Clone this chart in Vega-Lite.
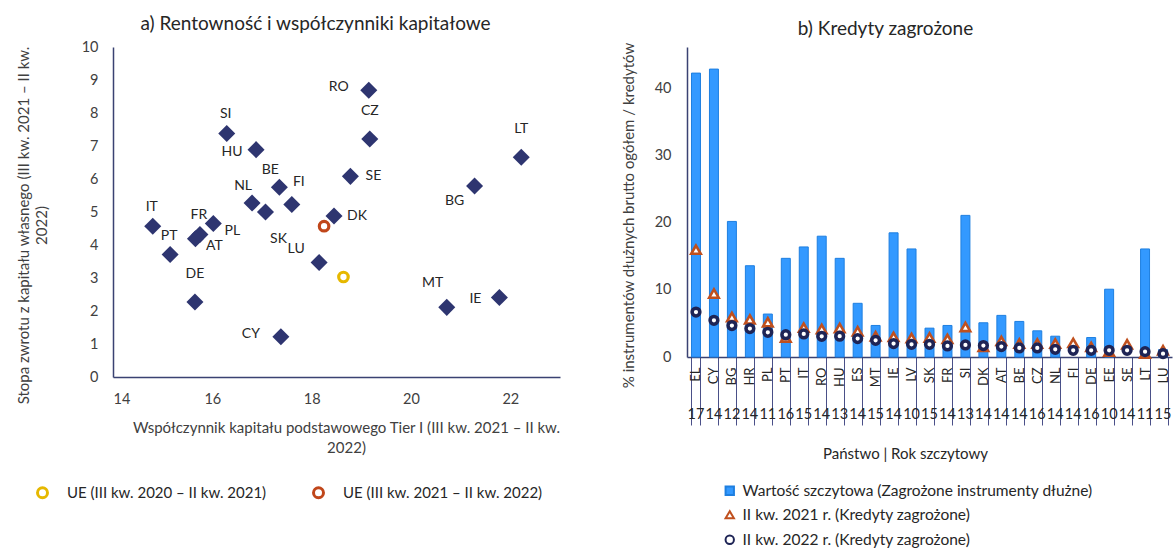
{
  "$schema": "https://vega.github.io/schema/vega-lite/v6.json",
  "padding": {"left": 15, "top": 15, "right": 0, "bottom": 0},
  "bounds": "flush",
  "spacing": 127,
  "config": {
    "font": "Lato",
    "view": {"stroke": null},
    "axis": {"grid": false, "ticks": false, "labelFont": "Lato", "titleFont": "Lato", "labelColor": "#404040", "titleColor": "#404040", "titleFontWeight": "normal", "domainColor": "#3A4272", "domainWidth": 1.5},
    "title": {"fontWeight": "normal", "color": "#262626", "font": "Lato"},
    "legend": {"labelFont": "Lato", "labelColor": "#262626", "labelLimit": 500}
  },
  "hconcat": [
    {
      "width": 447,
      "height": 330,
      "title": {"text": "a) Rentowność i współczynniki kapitałowe", "fontSize": 19, "offset": 5, "dx": -21},
      "data": {"values": [
        {"panstwo": "RO", "wspolczynnik": 19.15, "roe": 8.69},
        {"panstwo": "CZ", "wspolczynnik": 19.17, "roe": 7.21},
        {"panstwo": "LT", "wspolczynnik": 22.22, "roe": 6.66},
        {"panstwo": "SI", "wspolczynnik": 16.29, "roe": 7.38},
        {"panstwo": "HU", "wspolczynnik": 16.88, "roe": 6.89},
        {"panstwo": "BE", "wspolczynnik": 17.35, "roe": 5.75},
        {"panstwo": "FI", "wspolczynnik": 17.6, "roe": 5.23},
        {"panstwo": "NL", "wspolczynnik": 16.8, "roe": 5.27},
        {"panstwo": "SK", "wspolczynnik": 17.07, "roe": 5.0},
        {"panstwo": "SE", "wspolczynnik": 18.78, "roe": 6.08},
        {"panstwo": "DK", "wspolczynnik": 18.45, "roe": 4.88},
        {"panstwo": "LU", "wspolczynnik": 18.15, "roe": 3.47},
        {"panstwo": "IT", "wspolczynnik": 14.8, "roe": 4.57},
        {"panstwo": "PL", "wspolczynnik": 16.02, "roe": 4.65},
        {"panstwo": "FR", "wspolczynnik": 15.75, "roe": 4.32},
        {"panstwo": "AT", "wspolczynnik": 15.66, "roe": 4.19},
        {"panstwo": "PT", "wspolczynnik": 15.15, "roe": 3.71},
        {"panstwo": "DE", "wspolczynnik": 15.65, "roe": 2.27},
        {"panstwo": "CY", "wspolczynnik": 17.38, "roe": 1.22},
        {"panstwo": "MT", "wspolczynnik": 20.72, "roe": 2.11},
        {"panstwo": "IE", "wspolczynnik": 21.78, "roe": 2.41},
        {"panstwo": "BG", "wspolczynnik": 21.28, "roe": 5.79}
      ]},
      "encoding": {
        "x": {"field": "wspolczynnik", "type": "quantitative",
          "scale": {"domain": [14, 23], "nice": false, "zero": false},
          "axis": {"values": [14, 16, 18, 20, 22], "labelFontSize": 14.5, "labelPadding": 15,
            "title": ["Współczynnik kapitału podstawowego Tier I (III kw. 2021 – II kw.", "2022)"],
            "titleFontSize": 15, "titlePadding": 15, "titleX": 233, "titleLineHeight": 20}},
        "y": {"field": "roe", "type": "quantitative",
          "scale": {"domain": [0, 10], "nice": false},
          "axis": {"values": [0, 1, 2, 3, 4, 5, 6, 7, 8, 9, 10], "labelFontSize": 14.5, "labelPadding": 15,
            "title": ["Stopa zwrotu z kapitału własnego (III kw. 2021 – II kw.", "2022)"],
            "titleFontSize": 15, "titleX": -82, "titleY": 178, "titleLineHeight": 18}}
      },
      "layer": [
        {"mark": {"type": "point", "shape": "diamond", "filled": true, "size": 290, "color": "#2E3570", "opacity": 1}},
        {
          "data": {"values": [
            {"okres": "UE (III kw. 2020 – II kw. 2021)", "wspolczynnik": 18.64, "roe": 3.03},
            {"okres": "UE (III kw. 2021 – II kw. 2022)", "wspolczynnik": 18.25, "roe": 4.57}
          ]},
          "mark": {"type": "point", "shape": "circle", "filled": false, "size": 90, "strokeWidth": 3.2, "opacity": 1},
          "encoding": {
            "color": {"field": "okres", "type": "nominal",
              "scale": {"domain": ["UE (III kw. 2020 – II kw. 2021)", "UE (III kw. 2021 – II kw. 2022)"], "range": ["#E6B800", "#C0461A"]},
              "legend": {"orient": "none", "legendX": -78, "legendY": 438, "direction": "horizontal", "title": null,
                "labelFontSize": 15, "symbolSize": 100, "symbolStrokeWidth": 3, "labelOffset": 17, "columnPadding": 40, "symbolType": "circle"}}
          }
        },
        {"transform": [{"filter": {"field": "panstwo", "oneOf": ["RO", "CY"]}}],
         "mark": {"type": "text", "dx": -30, "dy": -3, "fontSize": 14, "color": "#262626"}, "encoding": {"text": {"field": "panstwo"}}},
        {"transform": [{"filter": {"field": "panstwo", "oneOf": ["HU", "IE"]}}],
         "mark": {"type": "text", "dx": -24, "dy": 2, "fontSize": 14, "color": "#262626"}, "encoding": {"text": {"field": "panstwo"}}},
        {"transform": [{"filter": {"field": "panstwo", "oneOf": ["CZ", "LT", "DE"]}}],
         "mark": {"type": "text", "dx": 0, "dy": -28, "fontSize": 14, "color": "#262626"}, "encoding": {"text": {"field": "panstwo"}}},
        {"transform": [{"filter": {"field": "panstwo", "oneOf": ["SI", "FR", "PT", "IT"]}}],
         "mark": {"type": "text", "dx": -1, "dy": -19, "fontSize": 14, "color": "#262626"}, "encoding": {"text": {"field": "panstwo"}}},
        {"transform": [{"filter": {"field": "panstwo", "oneOf": ["SE", "DK"]}}],
         "mark": {"type": "text", "dx": 23, "dy": 0, "fontSize": 14, "color": "#262626"}, "encoding": {"text": {"field": "panstwo"}}},
        {"transform": [{"filter": {"field": "panstwo", "oneOf": ["PL", "AT"]}}],
         "mark": {"type": "text", "dx": 19, "dy": 7, "fontSize": 14, "color": "#262626"}, "encoding": {"text": {"field": "panstwo"}}},
        {"transform": [{"filter": {"field": "panstwo", "oneOf": ["BE", "NL"]}}],
         "mark": {"type": "text", "dx": -9, "dy": -17, "fontSize": 14, "color": "#262626"}, "encoding": {"text": {"field": "panstwo"}}},
        {"transform": [{"filter": {"field": "panstwo", "equal": "FI"}}],
         "mark": {"type": "text", "dx": 7, "dy": -22, "fontSize": 14, "color": "#262626"}, "encoding": {"text": {"field": "panstwo"}}},
        {"transform": [{"filter": {"field": "panstwo", "equal": "SK"}}],
         "mark": {"type": "text", "dx": 13, "dy": 27, "fontSize": 14, "color": "#262626"}, "encoding": {"text": {"field": "panstwo"}}},
        {"transform": [{"filter": {"field": "panstwo", "equal": "LU"}}],
         "mark": {"type": "text", "dx": -23, "dy": -13, "fontSize": 14, "color": "#262626"}, "encoding": {"text": {"field": "panstwo"}}},
        {"transform": [{"filter": {"field": "panstwo", "equal": "BG"}}],
         "mark": {"type": "text", "dx": -20, "dy": 15, "fontSize": 14, "color": "#262626"}, "encoding": {"text": {"field": "panstwo"}}},
        {"transform": [{"filter": {"field": "panstwo", "equal": "MT"}}],
         "mark": {"type": "text", "dx": -14, "dy": -24, "fontSize": 14, "color": "#262626"}, "encoding": {"text": {"field": "panstwo"}}}
      ]
    },
    {
      "width": 485,
      "height": 310,
      "title": {"text": "b) Kredyty zagrożone", "fontSize": 19, "offset": 3, "dx": -44},
      "data": {"values": [
        {"kategoria": "EL|17", "szczyt": 42.3, "kw2_2021": 16.0, "kw2_2022": 6.7},
        {"kategoria": "CY|14", "szczyt": 42.9, "kw2_2021": 9.45, "kw2_2022": 5.47},
        {"kategoria": "BG|12", "szczyt": 20.2, "kw2_2021": 5.96, "kw2_2022": 4.68},
        {"kategoria": "HR|14", "szczyt": 13.6, "kw2_2021": 5.6, "kw2_2022": 4.23},
        {"kategoria": "PL|11", "szczyt": 6.4, "kw2_2021": 5.17, "kw2_2022": 3.68},
        {"kategoria": "PT|16", "szczyt": 14.7, "kw2_2021": 2.9, "kw2_2022": 3.33},
        {"kategoria": "IT|15", "szczyt": 16.4, "kw2_2021": 4.38, "kw2_2022": 3.43},
        {"kategoria": "RO|14", "szczyt": 18.0, "kw2_2021": 4.17, "kw2_2022": 3.08},
        {"kategoria": "HU|13", "szczyt": 14.7, "kw2_2021": 4.32, "kw2_2022": 3.1},
        {"kategoria": "ES|14", "szczyt": 8.0, "kw2_2021": 3.83, "kw2_2022": 2.74},
        {"kategoria": "MT|15", "szczyt": 4.7, "kw2_2021": 3.08, "kw2_2022": 2.49},
        {"kategoria": "IE|14", "szczyt": 18.5, "kw2_2021": 3.0, "kw2_2022": 2.0},
        {"kategoria": "LV|10", "szczyt": 16.1, "kw2_2021": 2.83, "kw2_2022": 1.89},
        {"kategoria": "SK|15", "szczyt": 4.3, "kw2_2021": 2.9, "kw2_2022": 1.89},
        {"kategoria": "FR|14", "szczyt": 4.7, "kw2_2021": 2.7, "kw2_2022": 1.64},
        {"kategoria": "SI|13", "szczyt": 21.1, "kw2_2021": 4.47, "kw2_2022": 1.79},
        {"kategoria": "DK|14", "szczyt": 5.1, "kw2_2021": 1.5, "kw2_2022": 1.7},
        {"kategoria": "AT|14", "szczyt": 6.2, "kw2_2021": 2.4, "kw2_2022": 1.55},
        {"kategoria": "BE|14", "szczyt": 5.3, "kw2_2021": 2.0, "kw2_2022": 1.35},
        {"kategoria": "CZ|16", "szczyt": 3.9, "kw2_2021": 2.0, "kw2_2022": 1.35},
        {"kategoria": "NL|14", "szczyt": 3.1, "kw2_2021": 2.0, "kw2_2022": 1.15},
        {"kategoria": "FI|14", "szczyt": null, "kw2_2021": 2.1, "kw2_2022": 1.0},
        {"kategoria": "DE|16", "szczyt": 2.9, "kw2_2021": 1.5, "kw2_2022": 1.0},
        {"kategoria": "EE|10", "szczyt": 10.1, "kw2_2021": 0.8, "kw2_2022": 1.0},
        {"kategoria": "SE|14", "szczyt": null, "kw2_2021": 1.9, "kw2_2022": 1.0},
        {"kategoria": "LT|11", "szczyt": 16.1, "kw2_2021": 0.5, "kw2_2022": 0.8},
        {"kategoria": "LU|15", "szczyt": 1.1, "kw2_2021": 1.0, "kw2_2022": 0.5}
      ]},
      "resolve": {"axis": {"x": "independent"}},
      "layer": [
        {
          "mark": {"type": "bar", "strokeWidth": 1},
          "encoding": {
            "x": {"field": "kategoria", "type": "nominal", "sort": null,
              "scale": {"domain": ["EL|17", "CY|14", "BG|12", "HR|14", "PL|11", "PT|16", "IT|15", "RO|14", "HU|13", "ES|14", "MT|15", "IE|14", "LV|10", "SK|15", "FR|14", "SI|13", "DK|14", "AT|14", "BE|14", "CZ|16", "NL|14", "FI|14", "DE|16", "EE|10", "SE|14", "LT|11", "LU|15"], "paddingInner": 0.5, "paddingOuter": 0.25},
              "axis": {"orient": "bottom", "labelAngle": 270, "labelPadding": -58, "labelFontSize": 13, "labelColor": "#262626",
                "labelExpr": "isValid(datum.value) ? split(datum.value, '|')[0] : ''", "ticks": true, "tickBand": "extent", "tickSize": 68,
                "tickColor": "#4A5088", "tickWidth": 1, "title": null}},
            "y": {"field": "szczyt", "type": "quantitative", "scale": {"domain": [0, 46.19], "nice": false},
              "axis": {"values": [0, 5, 10, 15, 20, 25, 30, 35, 40, 45], "labelFontSize": 14.5, "labelPadding": 16,
                "title": "% instrumentów dłużnych brutto ogółem / kredytów", "titleFontSize": 15, "titleX": -51, "titleY": 168}},
            "fill": {"datum": "Wartość szczytowa (Zagrożone instrumenty dłużne)",
              "scale": {"domain": ["Wartość szczytowa (Zagrożone instrumenty dłużne)", "II kw. 2021 r. (Kredyty zagrożone)", "II kw. 2022 r. (Kredyty zagrożone)"], "range": ["#3399FF", "#FFFFFF", "#FFFFFF"]},
              "legend": {"orient": "none", "legendX": 609, "legendY": 436, "direction": "vertical", "title": null,
                "labelFontSize": 15.5, "symbolSize": 70, "symbolStrokeWidth": 2, "labelOffset": 5, "rowPadding": 7}},
            "stroke": {"datum": "Wartość szczytowa (Zagrożone instrumenty dłużne)",
              "scale": {"domain": ["Wartość szczytowa (Zagrożone instrumenty dłużne)", "II kw. 2021 r. (Kredyty zagrożone)", "II kw. 2022 r. (Kredyty zagrożone)"], "range": ["#1E7FE0", "#C0501E", "#1E2455"]},
              "legend": {"orient": "none", "legendX": 609, "legendY": 436, "direction": "vertical", "title": null,
                "labelFontSize": 15.5, "symbolSize": 70, "symbolStrokeWidth": 2, "labelOffset": 5, "rowPadding": 7}}
          }
        },
        {
          "mark": {"type": "point", "size": 90, "strokeWidth": 2.6, "opacity": 1, "filled": false},
          "encoding": {
            "x": {"field": "kategoria", "type": "nominal", "sort": null,
              "axis": {"orient": "bottom", "labelAngle": 0, "labelPadding": 50, "labelFontSize": 14.5, "labelColor": "#262626", "labelBaseline": "top",
                "labelExpr": "split(datum.value, '|')[1]", "domain": false, "ticks": false,
                "title": "Państwo | Rok szczytowy", "titleFontSize": 15, "titleColor": "#262626", "titlePadding": 26, "titleX": 218}},
            "y": {"field": "kw2_2021", "type": "quantitative", "title": "% instrumentów dłużnych brutto ogółem / kredytów"},
            "fill": {"datum": "II kw. 2021 r. (Kredyty zagrożone)"},
            "stroke": {"datum": "II kw. 2021 r. (Kredyty zagrożone)"},
            "shape": {"datum": "II kw. 2021 r. (Kredyty zagrożone)",
              "scale": {"domain": ["Wartość szczytowa (Zagrożone instrumenty dłużne)", "II kw. 2021 r. (Kredyty zagrożone)", "II kw. 2022 r. (Kredyty zagrożone)"], "range": ["square", "triangle-up", "circle"]},
              "legend": {"orient": "none", "legendX": 609, "legendY": 436, "direction": "vertical", "title": null,
                "labelFontSize": 15.5, "symbolSize": 70, "symbolStrokeWidth": 2, "labelOffset": 5, "rowPadding": 7}}
          }
        },
        {
          "mark": {"type": "point", "size": 60, "strokeWidth": 3.5, "opacity": 1, "filled": false},
          "encoding": {
            "x": {"field": "kategoria", "type": "nominal", "sort": null, "axis": null},
            "y": {"field": "kw2_2022", "type": "quantitative", "title": "% instrumentów dłużnych brutto ogółem / kredytów"},
            "fill": {"datum": "II kw. 2022 r. (Kredyty zagrożone)"},
            "stroke": {"datum": "II kw. 2022 r. (Kredyty zagrożone)"},
            "shape": {"datum": "II kw. 2022 r. (Kredyty zagrożone)"}
          }
        }
      ]
    }
  ]
}
